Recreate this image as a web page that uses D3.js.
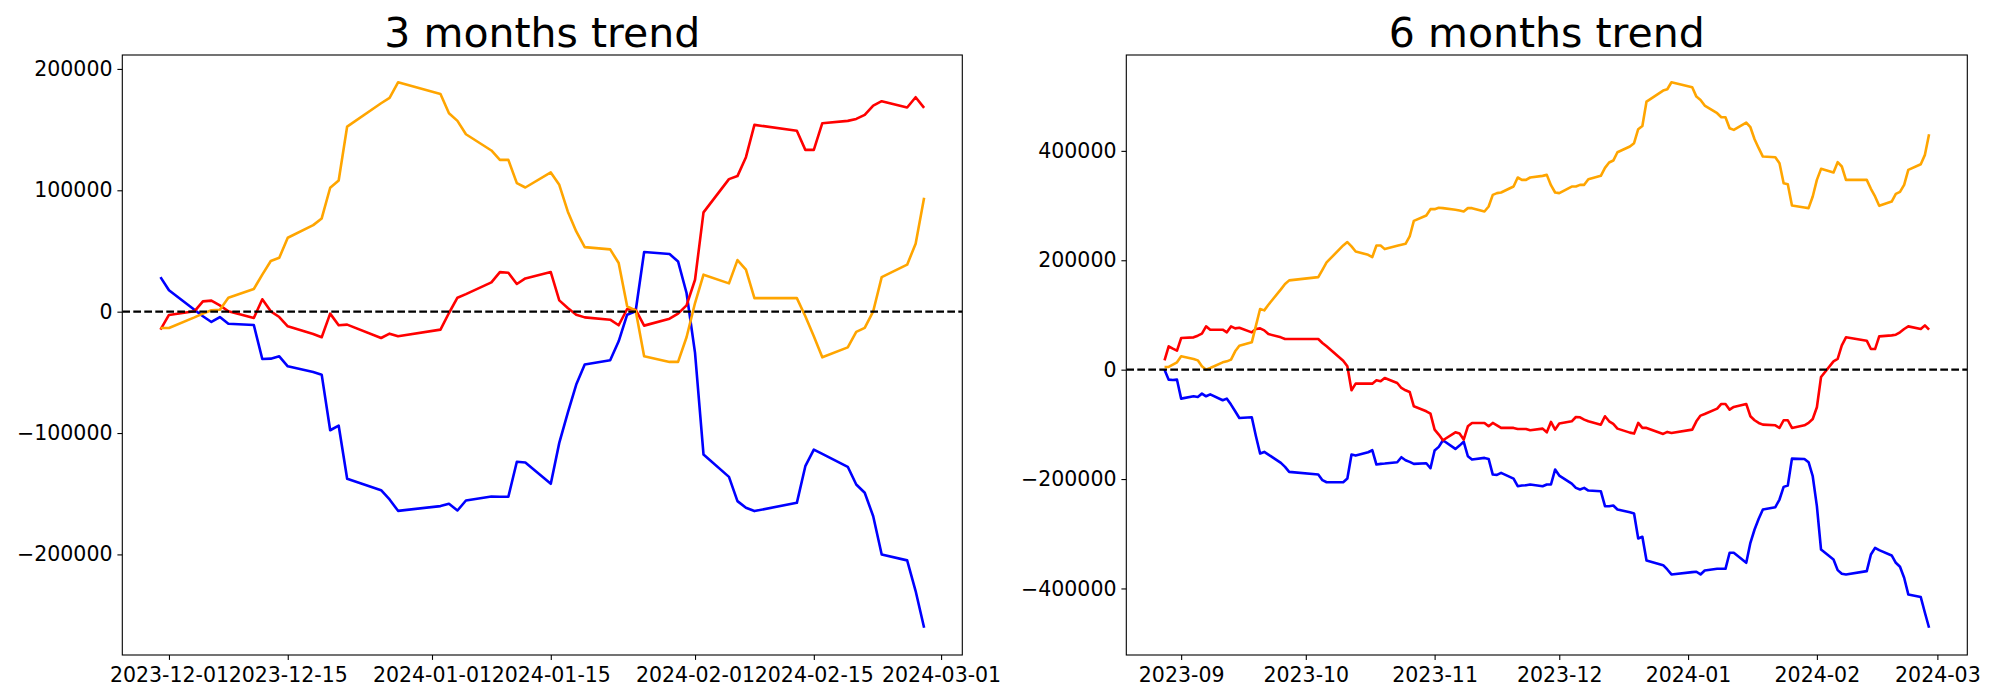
<!DOCTYPE html>
<html>
<head>
<meta charset="utf-8">
<script src="https://cdn.jsdelivr.net/npm/d3@7"></script>
<style>
  html, body { margin: 0; padding: 0; background: #ffffff; }
  svg { display: block; }
</style>
</head>
<body>
<svg id="chart" width="2000" height="700"></svg>
<script>
// ---------------- 3 months data ----------------
const dates3m = [
  "2023-11-30","2023-12-01",
  "2023-12-04","2023-12-05","2023-12-06","2023-12-07","2023-12-08",
  "2023-12-11","2023-12-12","2023-12-13","2023-12-14","2023-12-15",
  "2023-12-18","2023-12-19","2023-12-20","2023-12-21","2023-12-22",
  "2023-12-26","2023-12-27","2023-12-28",
  "2024-01-02","2024-01-03","2024-01-04","2024-01-05",
  "2024-01-08","2024-01-09","2024-01-10","2024-01-11","2024-01-12",
  "2024-01-15","2024-01-16","2024-01-17","2024-01-18","2024-01-19",
  "2024-01-22","2024-01-23","2024-01-24","2024-01-25","2024-01-26",
  "2024-01-29","2024-01-30","2024-01-31","2024-02-01","2024-02-02",
  "2024-02-05","2024-02-06","2024-02-07","2024-02-08",
  "2024-02-13","2024-02-14","2024-02-15","2024-02-16",
  "2024-02-19","2024-02-20","2024-02-21","2024-02-22","2024-02-23",
  "2024-02-26","2024-02-27","2024-02-28"
];
const blue3m = [
  28500, 17600,
  1600, -3800, -8500, -4400, -9900,
  -11000, -39000, -38700, -36800, -45000,
  -49700, -51900, -97700, -93800, -137700,
  -147100, -154700, -164100,
  -160200, -158300, -163800, -155600,
  -152300, -152500, -152500, -123700, -124300,
  -141800, -108100, -83400, -60100, -43600,
  -40100, -24400, -2500, 300, 49100,
  47500, 41400, 15400, -34000, -117700,
  -136100, -156100, -161600, -164300,
  -157500, -127300, -113600, -117100,
  -127800, -142400, -149200, -168500, -200000,
  -204900, -230200, -260400
];
const red3m = [
  -14800, -2700,
  300, 8500, 9100, 5200, 300,
  -5200, 10200, 300, -4400, -12100,
  -18400, -21100, -1600, -11200, -10700,
  -21700, -18100, -20300,
  -14800, -1100, 11500, 14500,
  24100, 32600, 32100, 22800, 27400,
  32600, 9300, 3000, -2500, -4700,
  -6600, -11200, 2200, 1600, -11500,
  -5800, -1600, 5200, 26300, 81800,
  109200, 111700, 127300, 153900,
  149000, 133300, 133300, 155300,
  157200, 158800, 162100, 169800, 173400,
  168200, 176700, 167900
];
const orange3m = [
  -13400, -13400,
  -4700, -1600, 1100, 1600, 11500,
  18700, 30500, 41700, 44400, 60900,
  71300, 76800, 102100, 108100, 152500,
  171700, 176100, 189000,
  179400, 163500, 157200, 146200,
  132800, 125100, 125100, 105900, 102300,
  114700, 104500, 82600, 66100, 53200,
  51300, 40100, 4400, 1100, -36800,
  -41400, -41400, -21100, 7100, 30500,
  23300, 42500, 34600, 11200,
  11200, -3800, -20300, -37600,
  -29400, -16700, -13400, 300, 28500,
  38700, 56000, 93800
];
const xTicks3m = ["2023-12-01","2023-12-15","2024-01-01","2024-01-15","2024-02-01","2024-02-15","2024-03-01"];
const yTicks3m = [-200000, -100000, 0, 100000, 200000];

// ---------------- 6 months data ----------------
const dates6m = [
  "2023-08-28","2023-08-29","2023-08-30","2023-08-31","2023-09-01",
  "2023-09-04","2023-09-05","2023-09-06","2023-09-07","2023-09-08",
  "2023-09-11","2023-09-12","2023-09-13","2023-09-14","2023-09-15",
  "2023-09-18","2023-09-19","2023-09-20","2023-09-21","2023-09-22",
  "2023-09-25","2023-09-26","2023-09-27",
  "2023-10-04","2023-10-05","2023-10-06",
  "2023-10-10","2023-10-11","2023-10-12","2023-10-13",
  "2023-10-16","2023-10-17","2023-10-18","2023-10-19","2023-10-20",
  "2023-10-23","2023-10-24","2023-10-25","2023-10-26","2023-10-27",
  "2023-10-30","2023-10-31","2023-11-01","2023-11-02","2023-11-03",
  "2023-11-06","2023-11-07","2023-11-08","2023-11-09","2023-11-10",
  "2023-11-13","2023-11-14","2023-11-15","2023-11-16","2023-11-17",
  "2023-11-20","2023-11-21","2023-11-22","2023-11-23","2023-11-24",
  "2023-11-27","2023-11-28","2023-11-29","2023-11-30","2023-12-01",
  "2023-12-04","2023-12-05","2023-12-06","2023-12-07","2023-12-08",
  "2023-12-11","2023-12-12","2023-12-13","2023-12-14","2023-12-15",
  "2023-12-18","2023-12-19","2023-12-20","2023-12-21","2023-12-22",
  "2023-12-26","2023-12-27","2023-12-28",
  "2024-01-02","2024-01-03","2024-01-04","2024-01-05",
  "2024-01-08","2024-01-09","2024-01-10","2024-01-11","2024-01-12",
  "2024-01-15","2024-01-16","2024-01-17","2024-01-18","2024-01-19",
  "2024-01-22","2024-01-23","2024-01-24","2024-01-25","2024-01-26",
  "2024-01-29","2024-01-30","2024-01-31","2024-02-01","2024-02-02",
  "2024-02-05","2024-02-06","2024-02-07","2024-02-08",
  "2024-02-13","2024-02-14","2024-02-15","2024-02-16",
  "2024-02-19","2024-02-20","2024-02-21","2024-02-22","2024-02-23",
  "2024-02-26","2024-02-27","2024-02-28"
];
const blue6m = [
  0, -18300, -18900, -18300, -53000,
  -48700, -49900, -43800, -48700, -45100,
  -56000, -53000, -63900, -76100, -88300,
  -87100, -121800, -153400, -150400, -155200,
  -170500, -177800, -186900,
  -191800, -202100, -205800,
  -205800, -199100, -155200, -157100,
  -151000, -147300, -173500, -172300, -171700,
  -169200, -160100, -165600, -168600, -172300,
  -171100, -180200, -147900, -141200, -129100,
  -144900, -138800, -131500, -158300, -164400,
  -161300, -163200, -191800, -192400, -188700,
  -199100, -213100, -211900, -211300, -210000,
  -213100, -210000, -210000, -182600, -193600,
  -208200, -216100, -219200, -216100, -221000,
  -222200, -249600, -249600, -248400, -255700,
  -260600, -262900, -308700, -305600, -348800,
  -357400, -365300, -374400,
  -370200, -369500, -374400, -367100,
  -364100, -364100, -364100, -334800, -334800,
  -353100, -316600, -292200, -272700, -255700,
  -251400, -237400, -214300, -211900, -162600,
  -163200, -169200, -194800, -249600, -328800,
  -347000, -366500, -373200, -374400,
  -368300, -337900, -325700, -330000,
  -339700, -353100, -360400, -380500, -410900,
  -415800, -444400, -471800
];
const red6m = [
  17000, 42600, 38400, 34700, 57800,
  59100, 62100, 65800, 79100, 73100,
  73100, 68200, 79100, 75500, 76700,
  68200, 74300, 75500, 71800, 65100,
  59100, 56000, 56000,
  56000, 48700, 42600,
  16400, 6100, -37700, -25600,
  -25600, -25600, -19500, -21300, -15200,
  -24400, -33500, -37700, -40800, -67000,
  -76100, -80400, -109600, -118700, -129100,
  -114500, -116900, -127800, -103500, -97400,
  -97400, -103500, -97400, -101700, -106500,
  -106500, -108400, -108400, -108400, -110800,
  -107800, -114500, -95600, -109600, -98600,
  -94400, -86500, -87100, -91300, -94400,
  -100500, -85200, -94400, -99200, -107800,
  -115100, -116900, -97400, -106500, -106500,
  -117500, -113800, -115700,
  -109600, -94400, -84000, -81000,
  -71200, -62700, -62700, -73100, -68200,
  -62700, -85200, -92500, -97400, -100500,
  -101700, -106500, -92500, -92500, -106500,
  -101700, -97400, -90100, -68800, -13400,
  15200, 19500, 44400, 59100,
  53000, 37700, 37700, 60900,
  62700, 63900, 68200, 74300, 79100,
  74300, 81000, 73100
];
const orange6m = [
  4900, 4900, 9100, 13400, 24400,
  19500, 17000, 6100, 0, 3000,
  13400, 15200, 18300, 33500, 43800,
  49900, 80400, 110800, 108400, 118700,
  146700, 156500, 163200,
  169200, 182600, 196000,
  227100, 233200, 225300, 216100,
  210000, 205800, 227100, 227100, 220400,
  226500, 228300, 230100, 243500, 272100,
  281900, 293400, 293400, 295900, 295300,
  292200, 291000, 289200, 295300, 295300,
  289200, 298300, 319600, 322700, 323900,
  334800, 351300, 347000, 347000, 351300,
  354300, 356100, 337300, 323900, 322700,
  334800, 334800, 337900, 337900, 348200,
  354300, 368900, 378700, 382300, 397500,
  407900, 414000, 439600, 445600, 490100,
  510200, 512600, 525400,
  516300, 499200, 493100, 482800,
  468800, 461500, 461500, 441400, 438300,
  451700, 443200, 421300, 404900, 389600,
  388400, 377500, 340900, 339100, 300100,
  296500, 295300, 316600, 347000, 367100,
  360400, 379300, 371400, 347000,
  347000, 330600, 316600, 299500,
  307400, 321400, 325100, 337900, 365300,
  375600, 392700, 430400
];
const xTicks6m = ["2023-09-01","2023-10-01","2023-11-01","2023-12-01","2024-01-01","2024-02-01","2024-03-01"];
const yTicks6m = [-400000, -200000, 0, 200000, 400000];

const seriesColors = ["blue", "red", "orange"];

// ---------------- drawing ----------------
const FONT = "'DejaVu Sans', sans-serif";
const parse = d3.timeParse("%Y-%m-%d");
const svg = d3.select("#chart");
svg.append("rect").attr("width", 2000).attr("height", 700).attr("fill", "#ffffff");

const panels = [
  { title: "3 months trend", dates: dates3m, series: [blue3m, red3m, orange3m],
    xTicks: xTicks3m, xFmt: "%Y-%m-%d", yTicks: yTicks3m, left: 122.3, right: 962.3 },
  { title: "6 months trend", dates: dates6m, series: [blue6m, red6m, orange6m],
    xTicks: xTicks6m, xFmt: "%Y-%m", yTicks: yTicks6m, left: 1126.3, right: 1967.3 }
];
const TOP = 55, BOTTOM = 655;

panels.forEach((p, pi) => {
  const times = p.dates.map(parse);
  const t0 = d3.min(times), t1 = d3.max(times);
  const tp = (t1 - t0) * 0.05;
  const x = d3.scaleTime()
    .domain([new Date(+t0 - tp), new Date(+t1 + tp)])
    .range([p.left, p.right]);

  const allVals = p.series.flat();
  const vMin = d3.min(allVals), vMax = d3.max(allVals);
  const vp = (vMax - vMin) * 0.05;
  const y = d3.scaleLinear().domain([vMin - vp, vMax + vp]).range([BOTTOM, TOP]);

  const g = svg.append("g");
  const clipId = "clip" + pi;
  g.append("clipPath").attr("id", clipId)
    .append("rect").attr("x", p.left).attr("y", TOP)
    .attr("width", p.right - p.left).attr("height", BOTTOM - TOP);

  const line = d3.line()
    .defined(d => d.v != null && !isNaN(d.v))
    .x(d => x(d.t)).y(d => y(d.v));

  const plot = g.append("g").attr("clip-path", `url(#${clipId})`);
  p.series.forEach((vals, si) => {
    const data = times.map((t, i) => ({ t: t, v: vals[i] }));
    plot.append("path")
      .datum(data)
      .attr("fill", "none")
      .attr("stroke", seriesColors[si])
      .attr("stroke-width", 2.6)
      .attr("stroke-linejoin", "round")
      .attr("stroke-linecap", "butt")
      .attr("d", line);
  });

  // zero reference line
  plot.append("line")
    .attr("x1", p.left).attr("x2", p.right)
    .attr("y1", y(0)).attr("y2", y(0))
    .attr("stroke", "black").attr("stroke-width", 2.1)
    .attr("stroke-dasharray", "7.7,3.3");

  // axes
  const xAxis = d3.axisBottom(x)
    .tickValues(p.xTicks.map(parse))
    .tickFormat(d3.timeFormat(p.xFmt))
    .tickSize(4.9).tickPadding(7.2);
  const gx = g.append("g").attr("transform", `translate(0,${BOTTOM})`).call(xAxis);
  gx.select(".domain").remove();

  const yAxis = d3.axisLeft(y)
    .tickValues(p.yTicks)
    .tickFormat(d3.format("d"))
    .tickSize(4.9).tickPadding(4.9);
  const gy = g.append("g").attr("transform", `translate(${p.left},0)`).call(yAxis);
  gy.select(".domain").remove();

  [gx, gy].forEach(a => {
    a.attr("font-family", FONT).attr("font-size", 20.5);
    a.selectAll("line").attr("stroke", "black").attr("stroke-width", 1.1);
    a.selectAll("text").attr("fill", "black");
  });

  // frame
  g.append("rect")
    .attr("x", p.left).attr("y", TOP)
    .attr("width", p.right - p.left).attr("height", BOTTOM - TOP)
    .attr("fill", "none").attr("stroke", "black").attr("stroke-width", 1.1);

  // title
  g.append("text")
    .attr("x", (p.left + p.right) / 2).attr("y", 47)
    .attr("text-anchor", "middle")
    .attr("font-family", FONT).attr("font-size", 41)
    .attr("fill", "black")
    .text(p.title);
});
</script>
</body>
</html>
